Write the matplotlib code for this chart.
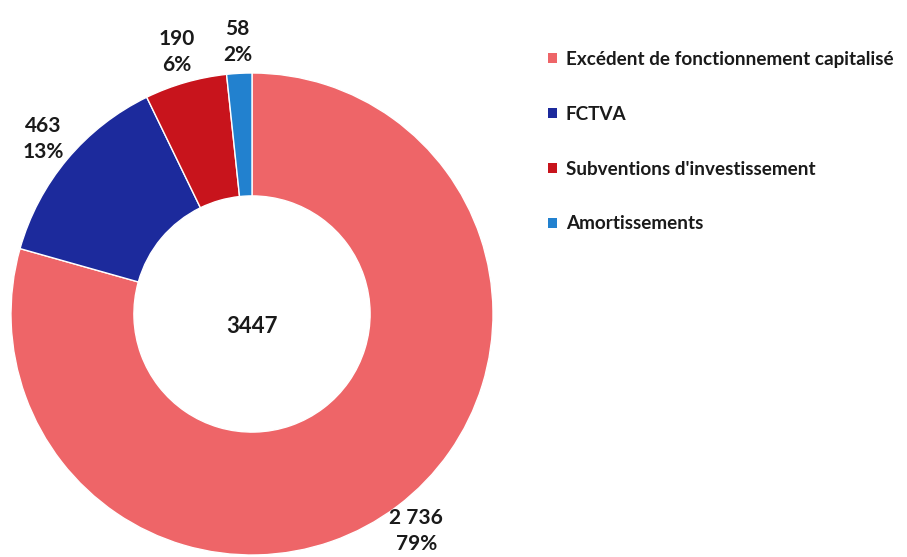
import matplotlib
matplotlib.use("Agg")
import matplotlib.pyplot as plt
import numpy as np
from matplotlib.patches import Patch

labels = ["Excédent de fonctionnement capitalisé", "FCTVA",
          "Subventions d'investissement", "Amortissements"]
values = [2736, 463, 190, 58]
value_txt = ["2 736", "463", "190", "58"]
colors = ["#EE6568", "#1C2A9C", "#C8141C", "#2281CF"]
total_txt = "3447"

plt.rcParams["font.family"] = ["Lato", "DejaVu Sans"]
txt_col = "#1a1a1a"

W, H = 907, 557
fig = plt.figure(figsize=(W / 100, H / 100), dpi=100)
cx, cy, R = 252, 314, 241
ax = fig.add_axes([(cx - R) / W, (H - cy - R) / H, 2 * R / W, 2 * R / H])

wedges, _ = ax.pie(values, colors=colors, startangle=90, counterclock=False,
                   radius=1, wedgeprops=dict(width=0.51, edgecolor="white", linewidth=1))
ax.set_xlim(-1, 1)
ax.set_ylim(-1, 1)
ax.set_aspect("equal")
ax.axis("off")

total = sum(values)
for w, v, vt in zip(wedges, values, value_txt):
    mid = np.deg2rad((w.theta1 + w.theta2) / 2)
    d = 1.13
    ax.text(d * np.cos(mid), d * np.sin(mid), f"{vt}\n{v / total:.0%}",
            ha="center", va="center", fontsize=15, fontweight="bold",
            color=txt_col, linespacing=1.4, clip_on=False)

ax.text(0, -0.05, total_txt, ha="center", va="center", fontsize=16,
        fontweight="bold", color=txt_col)

handles = [Patch(facecolor=c, edgecolor="none") for c in colors]
leg = fig.legend(handles, labels, loc="upper left", bbox_to_anchor=(531 / W, 1 - 34 / H),
                 frameon=False, fontsize=13.6, handlelength=0.45, handleheight=0.45,
                 handletextpad=0.5, labelspacing=2.0)
for t in leg.get_texts():
    t.set_fontweight("bold")
    t.set_color(txt_col)

fig.savefig("out.png", dpi=100)
